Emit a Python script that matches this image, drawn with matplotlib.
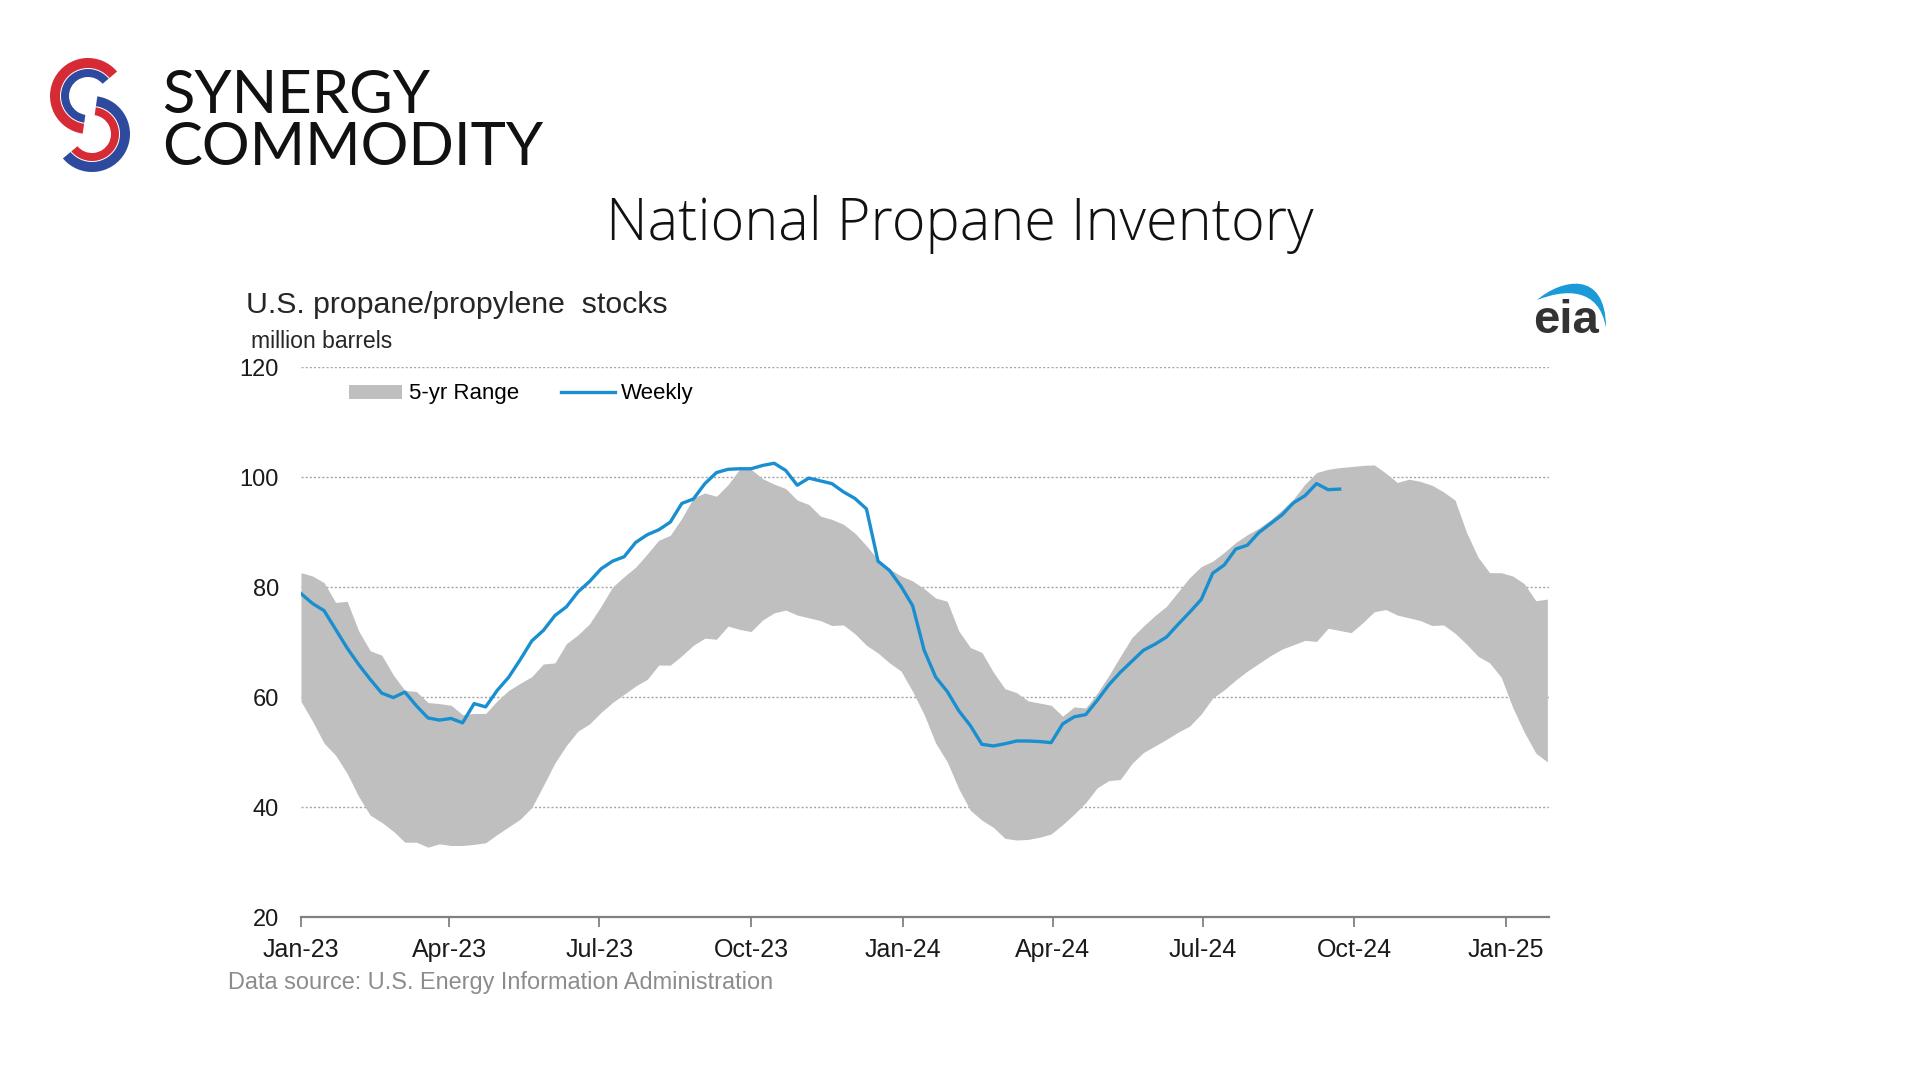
import matplotlib
matplotlib.use("Agg")
import matplotlib.pyplot as plt
import matplotlib.dates as mdates
from matplotlib.patches import Wedge, Patch, PathPatch
from matplotlib.lines import Line2D
from matplotlib.path import Path
import pandas as pd

# weekly stocks, million barrels
weekly = [78.8, 77.0, 75.7, 72.3, 68.9, 65.9, 63.2, 60.7, 59.9, 60.9,
          58.4, 56.2, 55.8, 56.1, 55.3, 58.8, 58.2, 61.2, 63.6, 66.8,
          70.2, 72.1, 74.8, 76.4, 79.1, 81.0, 83.3, 84.7, 85.5, 88.1,
          89.5, 90.4, 91.8, 95.2, 96.0, 98.8, 100.8, 101.4, 101.5, 101.5,
          102.1, 102.5, 101.2, 98.5, 99.8, 99.3, 98.8, 97.3, 96.1, 94.2,
          84.7, 83.0, 80.1, 76.6, 68.5, 63.6, 61.0, 57.5, 54.8, 51.4,
          51.1, 51.5, 52.0, 52.0, 51.9, 51.7, 55.1, 56.4, 56.8, 59.4,
          62.2, 64.5, 66.5, 68.5, 69.6, 70.9, 73.2, 75.4, 77.7, 82.5,
          84.0, 86.9, 87.6, 89.9, 91.5, 93.1, 95.3, 96.6, 98.8, 97.7,
          97.8]

# 5-yr range, top and bottom
range_high = [82.6, 82.0, 80.8, 77.2, 77.4, 72.0, 68.4, 67.6, 64.0, 61.2,
              61.0, 59.0, 58.8, 58.5, 56.8, 57.0, 57.0, 59.3, 61.2, 62.5,
              63.7, 66.0, 66.2, 69.7, 71.3, 73.3, 76.5, 80.0, 81.9, 83.6,
              86.0, 88.5, 89.4, 92.5, 96.2, 97.1, 96.5, 98.6, 101.4, 101.4,
              99.7, 98.7, 97.9, 95.8, 95.0, 92.9, 92.3, 91.4, 89.8, 87.5,
              85.0, 83.3, 82.0, 81.1, 79.7, 78.0, 77.4, 72.0, 69.0, 68.1,
              64.5, 61.5, 60.8, 59.3, 58.9, 58.5, 56.5, 58.2, 58.0, 60.7,
              63.9, 67.4, 70.8, 72.9, 74.8, 76.5, 79.1, 81.7, 83.7, 84.7,
              86.3, 88.1, 89.5, 90.7, 92.2, 94.0, 96.0, 98.7, 100.8, 101.4,
              101.7, 101.9, 102.1, 102.2, 100.7, 99.0, 99.6, 99.2, 98.5, 97.3,
              95.8, 89.9, 85.4, 82.6, 82.6, 82.0, 80.6, 77.5, 77.8]
range_low = [59.2, 55.6, 51.6, 49.4, 46.1, 41.9, 38.5, 37.2, 35.6, 33.6,
             33.6, 32.7, 33.3, 33.0, 33.0, 33.2, 33.5, 35.0, 36.4, 37.8,
             39.9, 43.9, 48.0, 51.2, 53.8, 55.1, 57.2, 59.0, 60.5, 62.0,
             63.2, 65.8, 65.8, 67.5, 69.4, 70.7, 70.5, 72.9, 72.3, 71.9,
             74.0, 75.3, 75.8, 74.9, 74.4, 73.9, 73.0, 73.1, 71.5, 69.4,
             68.0, 66.2, 64.7, 61.0, 56.8, 51.6, 48.2, 43.3, 39.4, 37.6,
             36.3, 34.3, 34.0, 34.1, 34.5, 35.1, 36.8, 38.7, 40.8, 43.5,
             44.8, 45.0, 47.9, 49.9, 51.1, 52.3, 53.6, 54.7, 56.9, 59.8,
             61.3, 63.1, 64.7, 66.1, 67.5, 68.7, 69.5, 70.3, 70.1, 72.5,
             72.1, 71.7, 73.5, 75.5, 75.9, 74.9, 74.4, 73.9, 73.0, 73.1,
             71.6, 69.6, 67.4, 66.2, 63.6, 58.1, 53.6, 49.8, 48.2]

weeks = pd.date_range("2023-01-01", periods=len(range_high), freq="7D")
y_ticks = [20, 40, 60, 80, 100, 120]

BAND = "#bfbfbf"
BLUE = "#1a8fd0"
W, H = 1920, 1080


def fx(px):
    return px / W


def fy(py):
    return 1 - py / H


fig = plt.figure(figsize=(19.2, 10.8), dpi=100)
fig.patch.set_facecolor("white")

# ---- logo / header layer, in pixel units ----
top = fig.add_axes([0, 0, 1, 1])
top.set_xlim(0, W)
top.set_ylim(0, H)
top.axis("off")

red, navy = "#d62b35", "#2e4a9e"
# upper hook: red outside, blue inside
top.add_patch(Wedge((88, H - 96), 38, 40, 262, width=10, color=red, lw=0))
top.add_patch(Wedge((88, H - 96), 27, 40, 262, width=8, color=navy, lw=0))
# lower hook: blue outside, red inside
top.add_patch(Wedge((92, H - 134), 38, -140, 82, width=10, color=navy, lw=0))
top.add_patch(Wedge((92, H - 134), 27, -140, 82, width=8, color=red, lw=0))

fig.text(fx(162), fy(113), "SYNERGY", fontsize=43, family="Lato",
         color="#111111", va="baseline")
fig.text(fx(162), fy(165), "COMMODITY", fontsize=43, family="Lato",
         color="#111111", va="baseline")

fig.text(0.5, fy(224), "National Propane Inventory", fontsize=41.5,
         family="Open Sans", weight="light", color="#111111",
         ha="center", va="center")

# eia mark
arc = Path([(1537, H - 300), (1560, H - 280), (1606, H - 268), (1606, H - 328),
            (1599, H - 287), (1565, H - 289), (1537, H - 300)],
           [Path.MOVETO, Path.CURVE4, Path.CURVE4, Path.CURVE4,
            Path.CURVE4, Path.CURVE4, Path.CURVE4])
top.add_patch(PathPatch(arc, facecolor="#1a9ad6", lw=0))
fig.text(fx(1533), fy(333), "eia", fontsize=34, family="Liberation Sans",
         weight="bold", color="#333333", va="baseline")

# ---- chart ----
ax = fig.add_axes([fx(301), fy(917), fx(1549) - fx(301), fy(367) - fy(917)])
ax.fill_between(weeks, range_low, range_high, color=BAND, lw=0, zorder=2)
ax.plot(weeks[:len(weekly)], weekly, color=BLUE, lw=2.4, zorder=3)

ax.set_ylim(20, 120)
ax.set_yticks(y_ticks)
ax.set_xlim(pd.Timestamp("2023-01-01"), pd.Timestamp("2025-01-27"))
ax.xaxis.set_major_locator(mdates.MonthLocator(bymonth=[1, 4, 7, 10]))
ax.xaxis.set_major_formatter(mdates.DateFormatter("%b-%y"))

for s in ["top", "right", "left"]:
    ax.spines[s].set_visible(False)
ax.spines["bottom"].set_color("#808080")
ax.spines["bottom"].set_linewidth(1.6)
ax.yaxis.grid(True, color="#a6a6a6", linestyle=(0, (1.5, 1.5)), lw=1)
ax.set_axisbelow(True)

ax.tick_params(axis="y", length=0, pad=16, labelsize=17,
               labelcolor="#1a1a1a")
ax.tick_params(axis="x", length=7, width=1.3, color="#808080",
               direction="out", pad=8, labelsize=18, labelcolor="#1a1a1a")
for lab in ax.get_xticklabels() + ax.get_yticklabels():
    lab.set_family("Liberation Sans")

handles = [Patch(facecolor=BAND, edgecolor="none", label="5-yr Range"),
           Line2D([], [], color=BLUE, lw=2.4, label="Weekly")]
ax.legend(handles=handles, loc="center left", ncol=2, frameon=False,
          bbox_to_anchor=(fx(349), fy(394)), bbox_transform=fig.transFigure,
          borderpad=0, borderaxespad=0, handlelength=2.4, handleheight=0.6,
          handletextpad=0.3, columnspacing=1.9,
          prop={"family": "Liberation Sans", "size": 16})

fig.text(fx(246), fy(305), "U.S. propane/propylene  stocks", fontsize=21.8,
         family="Liberation Sans", color="#262626", va="center")
fig.text(fx(251), fy(341), "million barrels", fontsize=16.6,
         family="Liberation Sans", color="#262626", va="center")
fig.text(fx(228), fy(983), "Data source: U.S. Energy Information Administration",
         fontsize=16.9, family="Liberation Sans", color="#8c8c8c", va="center")

fig.savefig("out.png", dpi=100, facecolor="white")
